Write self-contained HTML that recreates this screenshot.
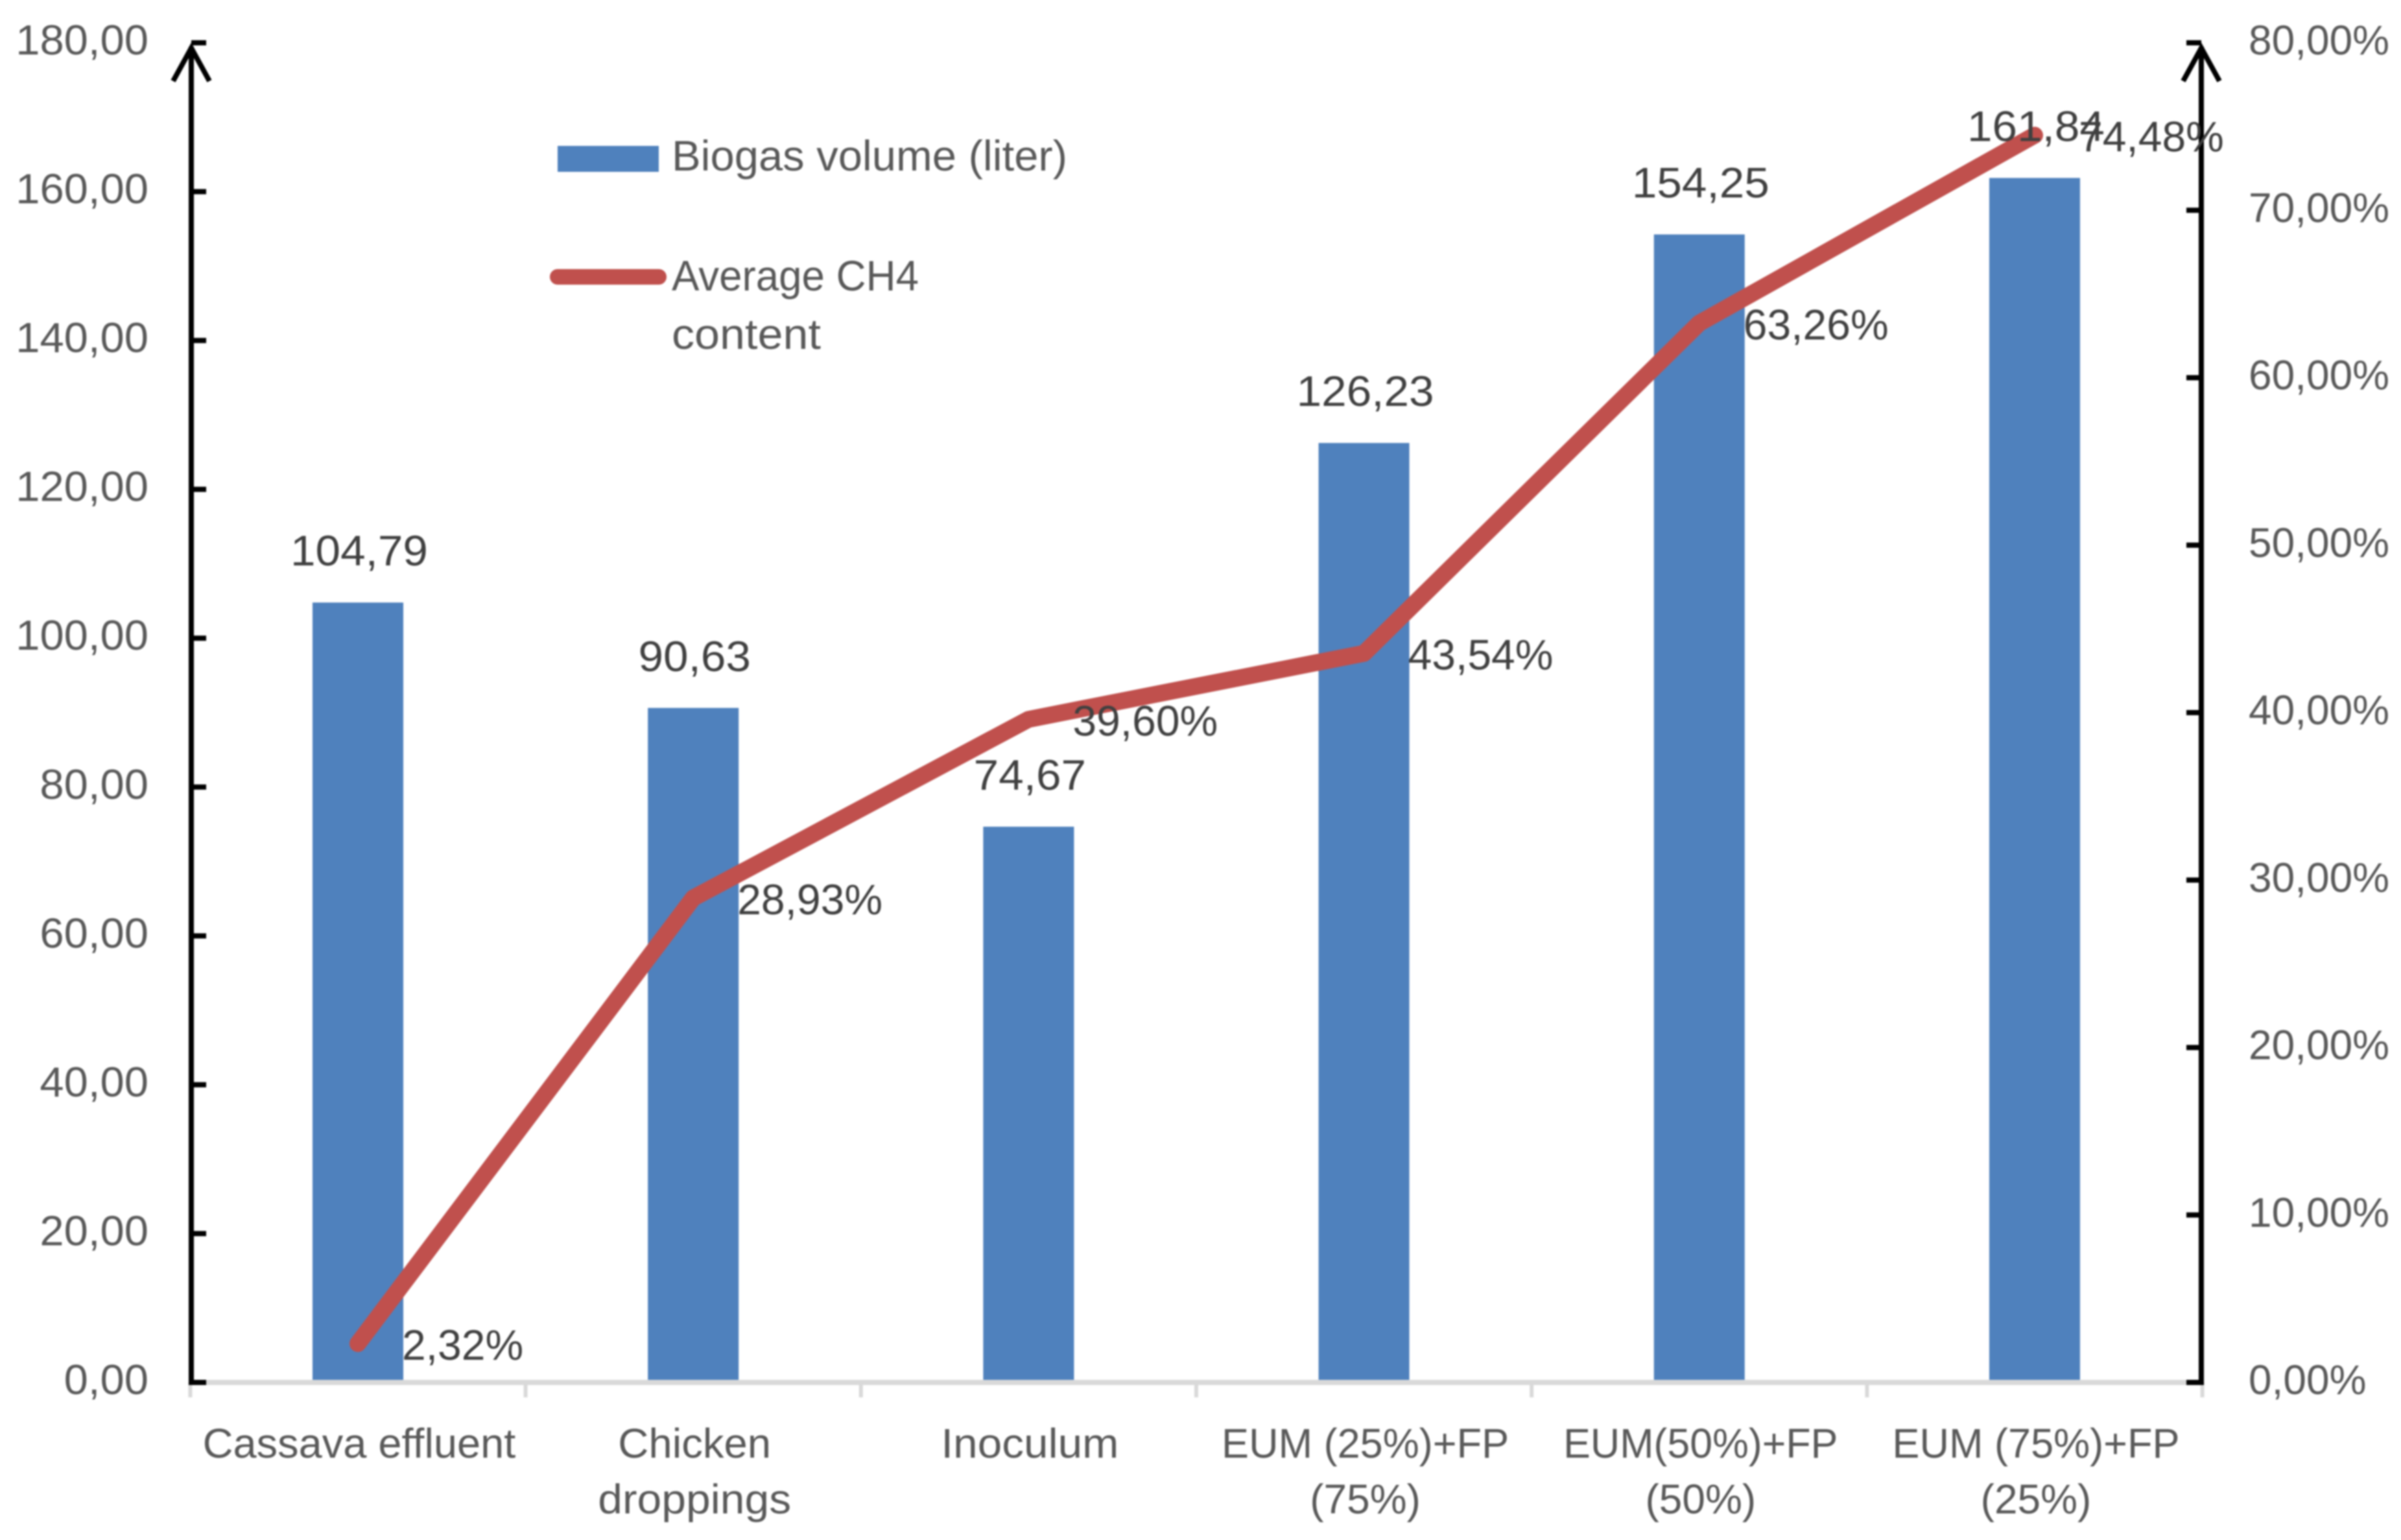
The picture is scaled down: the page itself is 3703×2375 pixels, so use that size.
<!DOCTYPE html>
<html lang="en">
<head>
<meta charset="utf-8">
<title>Biogas volume and average CH4 content</title>
<style>
html,body{margin:0;padding:0;background:#fff;width:3703px;height:2375px;overflow:hidden}
svg{display:block;filter:blur(1.2px)}
text{font-family:"Liberation Sans",sans-serif}
</style>
</head>
<body>
<svg id="chart" xmlns="http://www.w3.org/2000/svg" width="3703" height="2375" viewBox="0 0 3703 2375">
  <rect width="3703" height="2375" fill="#fff"/>
  <g id="bars"></g>
  <g id="xaxis"></g>
  <g id="line"></g>
  <g id="laxis"></g>
  <g id="raxis"></g>
  <g id="labels"></g>
  <g>
    <rect x="860" y="225" width="156" height="40" fill="#4f81bd"/>
    <text x="1036" y="263" font-size="66" fill="#595959" textLength="610" lengthAdjust="spacingAndGlyphs">Biogas volume (liter)</text>
    <line x1="860" y1="427" x2="1016" y2="427" stroke="#c0504d" stroke-width="24" stroke-linecap="round"/>
    <text x="1036" y="448" font-size="66" fill="#595959" textLength="381" lengthAdjust="spacingAndGlyphs">Average CH4</text>
    <text x="1036" y="538" font-size="66" fill="#595959" textLength="230" lengthAdjust="spacingAndGlyphs">content</text>
  </g>
</svg>
<script>
const categories = [
  ["Cassava effluent"],
  ["Chicken", "droppings"],
  ["Inoculum"],
  ["EUM (25%)+FP", "(75%)"],
  ["EUM(50%)+FP", "(50%)"],
  ["EUM (75%)+FP", "(25%)"]
];
const biogasVolume = [104.79, 90.63, 74.67, 126.23, 154.25, 161.84];
const ch4Content = [2.32, 28.93, 39.60, 43.54, 63.26, 74.48];
const leftTicks = [0, 20, 40, 60, 80, 100, 120, 140, 160, 180];
const rightTicks = [0, 10, 20, 30, 40, 50, 60, 70, 80];

const NS = "http://www.w3.org/2000/svg";
const plotLeft = 293.4, plotRight = 3396.6, plotBottom = 2132, plotTop = 66;
const leftMax = 180, rightMax = 80;
const step = (plotRight - plotLeft) / categories.length;
function xCenter(i) { return plotLeft + step * (i + 0.5); }
function yLeft(v) { return plotBottom - (plotBottom - plotTop) * v / leftMax; }
function yRight(v) { return plotBottom - (plotBottom - plotTop) * v / rightMax; }
function comma(v) { return v.toFixed(2).replace(".", ","); }

function make(tag, attrs, parent, content) {
  const el = document.createElementNS(NS, tag);
  for (const k in attrs) el.setAttribute(k, attrs[k]);
  if (content !== undefined) el.textContent = content;
  parent.appendChild(el);
  return el;
}
function stretch(el, factor) {
  el.setAttribute("textLength", el.getComputedTextLength() * factor);
  el.setAttribute("lengthAdjust", "spacingAndGlyphs");
}
const categoryStretch = {
  "Cassava effluent": 1.015, "Chicken": 1.02, "droppings": 1.06, "Inoculum": 1.055,
  "EUM (25%)+FP": 0.985, "EUM(50%)+FP": 0.98, "EUM (75%)+FP": 0.985
};
const gBars = document.getElementById("bars");
const gX = document.getElementById("xaxis");
const gLine = document.getElementById("line");
const gL = document.getElementById("laxis");
const gR = document.getElementById("raxis");
const gLabels = document.getElementById("labels");

/* bars */
const barWidth = 140;
biogasVolume.forEach(function (v, i) {
  const y = yLeft(v);
  const bar = make("rect", { x: xCenter(i) - barWidth / 2, y: y, width: barWidth, height: plotBottom - y, fill: "#4f81bd" }, gBars);
  
  
  const lab = make("text", { x: xCenter(i) + 2, y: y - 57, "text-anchor": "middle", "font-size": 66, fill: "#404040" }, gLabels, comma(v));
  
  
  stretch(lab, 1.05);
});

/* x axis */
const xLine = make("rect", { x: plotLeft, y: 2128, width: plotRight - plotLeft, height: 8, fill: "#d9d9d9" }, gX);


for (let i = 0; i <= categories.length; i++) {
  const t = make("rect", { x: plotLeft + step * i - 3, y: 2132, width: 6, height: 23, fill: "#d9d9d9" }, gX);
  
  
}
categories.forEach(function (lines, i) {
  lines.forEach(function (s, j) {
    const t = make("text", { x: xCenter(i) + 2, y: 2248 + 86 * j, "text-anchor": "middle", "font-size": 64, fill: "#595959" }, gX, s);
    
    
    stretch(t, categoryStretch[s] || 1);
  });
});

/* line series */
const pts = ch4Content.map(function (v, i) { return xCenter(i) + "," + yRight(v); }).join(" ");
const poly = make("polyline", { points: pts, fill: "none", stroke: "#c0504d", "stroke-width": 26, "stroke-linecap": "round", "stroke-linejoin": "round" }, gLine);


ch4Content.forEach(function (v, i) {
  const lab = make("text", { x: xCenter(i) + 68, y: yRight(v) + 25, "font-size": 66, fill: "#404040" }, gLabels, comma(v) + "%");
  
  
});

/* left axis */
const lx = 295;
const lAxis = make("line", { x1: lx, y1: plotBottom + 4, x2: lx, y2: 72, stroke: "#000", "stroke-width": 8 }, gL);


const lArrow = make("polyline", { points: "267,125 295,74 323,125", fill: "none", stroke: "#000", "stroke-width": 8 }, gL);


leftTicks.forEach(function (v) {
  const y = yLeft(v);
  const t = make("rect", { x: lx, y: y - 4, width: 23, height: 8, fill: "#000" }, gL);
  
  
  const lab = make("text", { x: 229, y: y + 18, "text-anchor": "end", "font-size": 65, fill: "#595959" }, gL, comma(v));
  
  
  stretch(lab, 1.03);
});

/* right axis */
const rx = 3395;
const rAxis = make("line", { x1: rx, y1: plotBottom + 4, x2: rx, y2: 72, stroke: "#000", "stroke-width": 8 }, gR);


const rArrow = make("polyline", { points: "3367,125 3395,74 3423,125", fill: "none", stroke: "#000", "stroke-width": 8 }, gR);


rightTicks.forEach(function (v) {
  const y = yRight(v);
  const t = make("rect", { x: rx - 23, y: y - 4, width: 23, height: 8, fill: "#000" }, gR);
  
  
  const lab = make("text", { x: 3468, y: y + 18, "font-size": 64, fill: "#595959" }, gR, comma(v) + "%");
  
  
});
</script>
</body>
</html>
